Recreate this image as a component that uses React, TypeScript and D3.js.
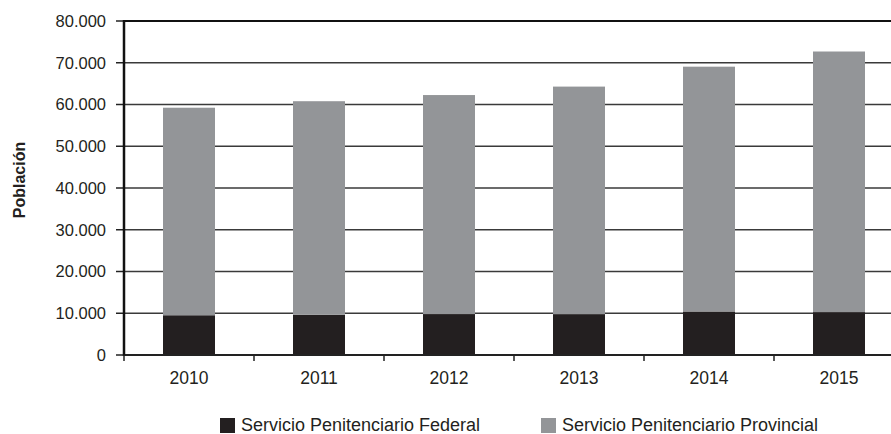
import { useMemo } from 'react';
import * as d3 from 'd3';

// Años y población por servicio (lectura del gráfico)
const YEARS = ['2010', '2011', '2012', '2013', '2014', '2015'];
const FEDERAL = [9523, 9644, 9807, 9795, 10424, 10274];
const PROVINCIAL = [49704, 51145, 52456, 54493, 58636, 62419];
const Y_TICKS = [0, 10000, 20000, 30000, 40000, 50000, 60000, 70000, 80000];
const SERIES_NAMES = ['Servicio Penitenciario Federal', 'Servicio Penitenciario Provincial'];
const SERIES_COLORS = ['#231f20', '#939598'];

const width = 891;
const height = 434;
const plot = { left: 124, right: 904, top: 21, bottom: 355 };
const FONT = '"Liberation Sans", Arial, Helvetica, sans-serif';

const fmt = (v: number) => d3.format(',')(v).replace(/,/g, '.');

export default function App() {
  const x = useMemo(
    () => d3.scaleBand<string>().domain(YEARS).range([plot.left, plot.right]).paddingInner(0.6).paddingOuter(0.3),
    []
  );
  const y = useMemo(() => d3.scaleLinear().domain([0, 80000]).range([plot.bottom, plot.top]), []);

  const stacked = useMemo(() => {
    const rows = YEARS.map((year, i) => ({ year, federal: FEDERAL[i], provincial: PROVINCIAL[i] }));
    return d3.stack<any>().keys(['federal', 'provincial'])(rows);
  }, []);

  const step = x.step();
  const bandEdges = d3.range(YEARS.length + 1).map((i) => plot.left + i * step);

  return (
    <svg width={width} height={height} style={{ position: 'absolute', left: 0, top: 0, background: '#fff' }} fontFamily={FONT}>
      {/* grid lines */}
      {Y_TICKS.map((t) => (
        <g key={t}>
          <line
            x1={plot.left}
            x2={width}
            y1={y(t)}
            y2={y(t)}
            stroke={t === 80000 ? '#111' : '#3a3a3a'}
            strokeWidth={t === 80000 ? 2.2 : 1.5}
          />
          <line x1={plot.left - 8} x2={plot.left} y1={y(t)} y2={y(t)} stroke="#222" strokeWidth={1.5} />
          <text x={106} y={y(t)} dy="0.35em" textAnchor="end" fontSize={16.5} fill="#231f20">
            {fmt(t)}
          </text>
        </g>
      ))}

      {/* bars */}
      {stacked.map((layer, li) => (
        <g key={layer.key} fill={SERIES_COLORS[li]}>
          {layer.map((d: any, i: number) => (
            <rect
              key={YEARS[i]}
              x={x(YEARS[i])}
              width={x.bandwidth()}
              y={y(d[1])}
              height={y(d[0]) - y(d[1])}
            />
          ))}
        </g>
      ))}

      {/* axes */}
      <line x1={plot.left} x2={width} y1={y(0)} y2={y(0)} stroke="#222" strokeWidth={2} />
      <line x1={plot.left} x2={plot.left} y1={plot.top - 1} y2={y(0) + 1} stroke="#111" strokeWidth={2.5} />
      {bandEdges.map((bx) => (
        <line key={bx} x1={bx} x2={bx} y1={y(0)} y2={y(0) + 6} stroke="#222" strokeWidth={1.5} />
      ))}
      {YEARS.map((yr) => (
        <text key={yr} x={(x(yr) ?? 0) + x.bandwidth() / 2} y={383.5} textAnchor="middle" fontSize={17.5} fill="#231f20">
          {yr}
        </text>
      ))}

      {/* y title */}
      <text
        transform={`translate(19, 180) rotate(-90)`}
        dy="0.35em"
        textAnchor="middle"
        fontSize={16}
        fontWeight="bold"
        fill="#231f20"
      >
        Población
      </text>

      {/* legend */}
      {SERIES_NAMES.map((name, i) => {
        const lx = [220, 541][i];
        return (
          <g key={name}>
            <rect x={lx} y={418} width={15} height={15} fill={SERIES_COLORS[i]} />
            <text x={lx + 21} y={431} fontSize={18} fill="#231f20">
              {name}
            </text>
          </g>
        );
      })}
    </svg>
  );
}
